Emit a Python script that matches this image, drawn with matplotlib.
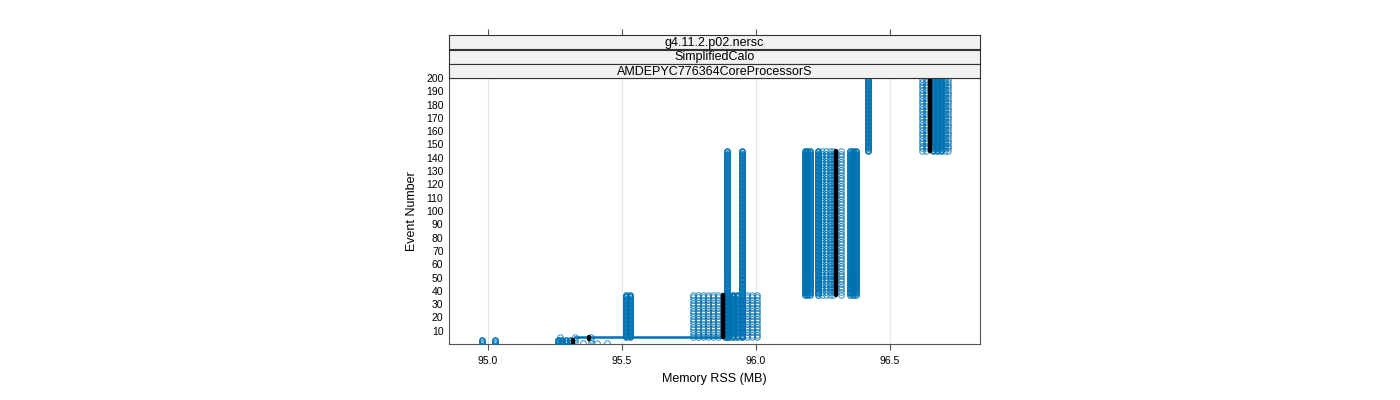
import numpy as np
import matplotlib
matplotlib.use("Agg")
import matplotlib.pyplot as plt

plt.rcParams['font.family'] = ['Liberation Sans', 'DejaVu Sans']

# columns of points: memory RSS value (MB), first event, last event
solid_x  = [94.978, 95.026, 95.261, 95.276, 95.291, 95.306, 95.515, 95.530,
            95.884, 95.899, 95.914, 95.929, 95.892, 95.948,
            96.181, 96.191, 96.200, 96.230, 96.351, 96.362, 96.373,
            96.418, 96.660, 96.675, 96.690]
solid_e0 = [1, 1, 1, 1, 1, 1, 5, 5,
            5, 5, 5, 5, 5, 5,
            37, 37, 37, 37, 37, 37, 37,
            145, 145, 145, 145]
solid_e1 = [3, 3, 3, 3, 3, 3, 37, 37,
            37, 37, 37, 37, 145, 145,
            145, 145, 145, 145, 145, 145, 145,
            200, 200, 200, 200]

light_x  = [95.269, 95.325, 95.354, 95.384, 95.407, 95.444,
            95.765, 95.784, 95.802, 95.821, 95.840, 95.858,
            95.948, 95.966, 95.985, 96.004,
            96.248, 96.262, 96.276, 96.287, 96.316,
            96.619, 96.634, 96.705, 96.716]
light_e0 = [1, 1, 1, 1, 1, 1,
            5, 5, 5, 5, 5, 5,
            5, 5, 5, 5,
            37, 37, 37, 37, 37,
            145, 145, 145, 145]
light_e1 = [5, 5, 2, 5, 2, 2,
            37, 37, 37, 37, 37, 37,
            37, 37, 37, 37,
            145, 145, 145, 145, 145,
            200, 200, 200, 200]

# highlighted (black) run
black_x  = [95.317, 95.377, 95.877, 96.299, 96.649]
black_e0 = [1, 4, 5, 37, 145]
black_e1 = [3, 5, 37, 145, 200]

# horizontal jump at event 5
jump_x = [95.325, 95.884]
jump_e = [5, 5]

strips = ['g4.11.2.p02.nersc', 'SimplifiedCalo', 'AMDEPYC776364CoreProcessorS']

blue = '#0072B2'
edge = '#555555'
xlim = (94.854, 96.836)
xticks = [95.0, 95.5, 96.0, 96.5]

fig = plt.figure(figsize=(14, 4), dpi=100)
ax = fig.add_axes([449/1400, 1-344/400, 531/1400, 266/400])

for x in xticks:
    ax.axvline(x, color='#e6e6e6', lw=0.8, zorder=0)

for x, a, b in zip(light_x, light_e0, light_e1):
    ev = np.arange(a, b + 1, 2)
    ax.plot(np.full(len(ev), x), ev, 'o', mfc='none', mec=blue, ms=4, mew=0.8, alpha=0.7, zorder=2)
for x, a, b in zip(solid_x, solid_e0, solid_e1):
    ev = np.arange(a, b + 1)
    ax.plot(np.full(len(ev), x), ev, 'o', mfc='none', mec=blue, ms=4, mew=0.8, zorder=3)

ax.plot(jump_x, jump_e, color=blue, lw=1.8, zorder=3)

for x, a, b in zip(black_x, black_e0, black_e1):
    ax.plot([x, x], [a, b], color='black', lw=3.2, solid_capstyle='round', zorder=4)

ax.set_xlim(*xlim)
ax.set_ylim(0, 200)
ax.set_xticks(xticks)
ax.set_xticklabels(['95.0', '95.5', '96.0', '96.5'], fontsize=7.5)
ax.set_yticks(range(10, 201, 10))
ax.set_yticklabels([str(v) for v in range(10, 201, 10)], fontsize=7.5)
ax.tick_params(axis='x', direction='out', length=4.5, color=edge, pad=4)
ax.tick_params(axis='y', length=0, pad=4)
for s in ax.spines.values():
    s.set_color(edge)
    s.set_linewidth(0.8)
ax.set_xlabel('Memory RSS (MB)', fontsize=9, labelpad=5)
ax.set_ylabel('Event Number', fontsize=9, labelpad=6)

# strips
tops = [35, 49.5, 64]
for i, (t, lab) in enumerate(zip(tops, strips)):
    h = 14.3 if i < 2 else 14
    sax = fig.add_axes([449/1400, 1-(t+h)/400, 531/1400, h/400])
    sax.set_facecolor('#f2f2f2')
    sax.set_xlim(*xlim)
    sax.set_yticks([])
    sax.text(0.5, 0.45, lab, ha='center', va='center', fontsize=9, transform=sax.transAxes)
    for s in sax.spines.values():
        s.set_color('#333333')
        s.set_linewidth(0.8)
    if i == 0:
        sax.set_xticks(xticks)
        sax.tick_params(axis='x', top=True, bottom=False, labeltop=False, labelbottom=False,
                        direction='out', length=4.5, color=edge)
    else:
        sax.set_xticks([])

fig.savefig('out.png', dpi=100)
